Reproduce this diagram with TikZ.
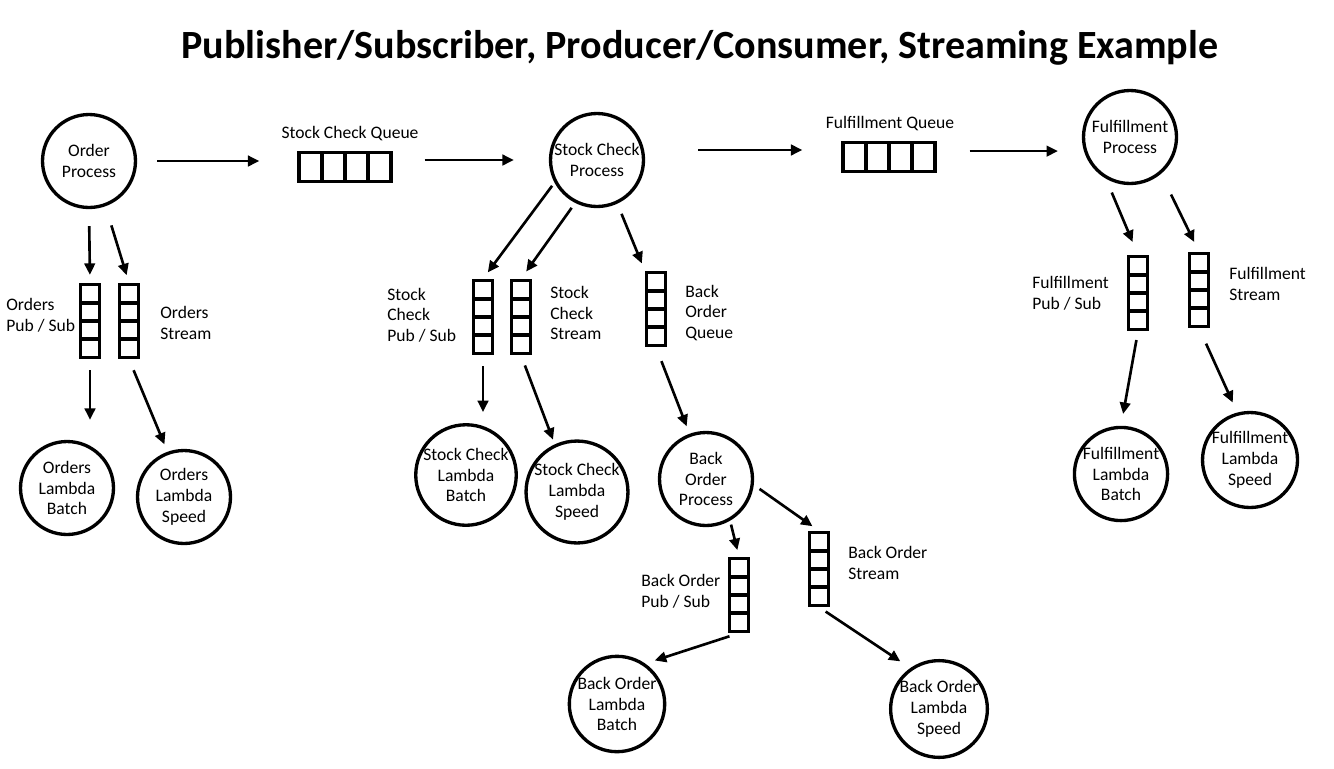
\documentclass[tikz,border=0pt]{standalone}
\usepackage{fontspec}
\setmainfont{Carlito}
\usepackage{tikz}
\usetikzlibrary{arrows.meta}

\tikzset{
  txt/.style={font=\fontsize{10}{11.8}\selectfont},
  proc/.style={draw, circle, line width=1.9pt, minimum size=1.86cm, inner sep=0pt, align=center, txt},
  vq/.style={draw, line width=1.9pt, minimum width=0.38cm, minimum height=1.46cm, inner sep=0pt,
    path picture={\foreach \k in {1,2,3}
      \draw[line width=2.2pt] ([yshift=-\k*0.365cm]path picture bounding box.north west) -- ([yshift=-\k*0.365cm]path picture bounding box.north east);}},
  hq/.style={draw, line width=1.9pt, minimum width=1.84cm, minimum height=0.58cm, inner sep=0pt,
    path picture={\foreach \k in {1,2,3}
      \draw[line width=2.2pt] ([xshift=\k*0.46cm]path picture bounding box.north west) -- ([xshift=\k*0.46cm]path picture bounding box.south west);}},
  lbl/.style={anchor=west, align=left, inner sep=0pt, txt},
  arr/.style={-{Triangle[length=6.5pt,width=6pt]}, line width=1.5pt},
  gap/.style 2 args={shorten <=#1, shorten >=#2}
}

\begin{document}
\begin{tikzpicture}[x=0.02cm, y=-0.02cm]
\useasboundingbox (0,0) rectangle (1334,768);

\node at (700,48) {\fontsize{22.8}{26}\selectfont\bfseries Publisher/Subscriber, Producer/Consumer, Streaming Example};

% orders
\node (orderproc) at (89,161) [proc] {Order\\Process};
\node (opubsub) at (90,321) [vq] {};
\node (ostream) at (129,321) [vq] {};
\node at (6,315) [lbl] {Orders\\Pub / Sub};
\node at (160,323) [lbl] {Orders\\Stream};
\node (olb) at (67,488) [proc] {Orders\\Lambda\\Batch};
\node (ols) at (184,497) [proc] {Orders\\Lambda\\Speed};

% stock check
\node (scqueue) at (345,167) [hq] {};
\node at (350,134) [txt] {Stock Check Queue};
\node (scproc) at (597,160) [proc] {Stock Check\\Process};
\node (scpubsub) at (483,317) [vq] {};
\node (scstream) at (521,317) [vq] {};
\node at (387,315) [lbl] {Stock\\Check\\Pub / Sub};
\node at (550,313) [lbl] {Stock\\Check\\Stream};
\node (sclb) at (466,475) [proc] {Stock Check\\Lambda\\Batch};
\node (scls) at (577,492) [proc] {Stock Check\\Lambda\\Speed};

% back order
\node (boqueue) at (656,309) [vq] {};
\node at (685,313) [lbl] {Back\\Order\\Queue};
\node (boproc) at (706,479) [proc] {Back\\Order\\Process};
\node (bopubsub) at (739,595) [vq] {};
\node (bostream) at (819,569) [vq] {};
\node at (641,591) [lbl] {Back Order\\Pub / Sub};
\node at (848,563) [lbl] {Back Order\\Stream};
\node (bolb) at (617,704) [proc] {Back Order\\Lambda\\Batch};
\node (bols) at (939,709) [proc] {Back Order\\Lambda\\Speed};

% fulfillment
\node (fqueue) at (889,157) [hq] {};
\node at (890,124) [txt] {Fulfillment Queue};
\node (fproc) at (1130,137) [proc] {Fulfillment\\Process};
\node (fpubsub) at (1138,293) [vq] {};
\node (fstream) at (1199,290) [vq] {};
\node at (1032,293) [lbl] {Fulfillment\\Pub / Sub};
\node at (1229,284) [lbl] {Fulfillment\\Stream};
\node (flb) at (1121,474) [proc] {Fulfillment\\Lambda\\Batch};
\node (fls) at (1250,460) [proc] {Fulfillment\\Lambda\\Speed};

% main flow
\draw [arr, gap={0.4cm}{0.76cm}] (orderproc.east) -- (orderproc.east -| scqueue.west);
\draw [arr, gap={0.64cm}{0.7cm}] (scqueue.east |- scproc.west) -- (scproc.west);
\draw [arr, gap={1.08cm}{0.78cm}] (scproc.12) -- (scproc.12 -| fqueue.west);
\draw [arr, gap={0.66cm}{0.52cm}] (fqueue.east |- fproc.197) -- (fproc.197);

% orders branches
\draw [arr, gap={0.34cm}{0.16cm}] (orderproc.south) -- (opubsub.north);
\draw [arr, gap={0.4cm}{0.16cm}] (orderproc.290) -- (ostream.north);
\draw [arr, gap={0.22cm}{0.4cm}] (opubsub.south) -- (opubsub.south |- olb.north);
\draw [arr, gap={0.24cm}{0.16cm}] (ostream.south) -- (ols.110);

% stock check branches
\draw [arr, gap={0.08cm}{0.16cm}] (scproc.208) -- (scpubsub.north);
\draw [arr, gap={0.12cm}{0.18cm}] (scproc.243) -- (scstream.north);
\draw [arr, gap={0.22cm}{0.16cm}] (scproc.295) -- (boqueue.north west);
\draw [arr, gap={0.22cm}{0.22cm}] (scpubsub.south) -- (scpubsub.south |- sclb.north);
\draw [arr, gap={0.22cm}{0.1cm}] (scstream.south) -- (scls.115);

% back order branches
\draw [arr, gap={0.3cm}{0.16cm}] (boqueue.south) -- (boproc.110);
\draw [arr, gap={0.08cm}{0.14cm}] (boproc.300) -- (bopubsub.north);
\draw [arr, gap={0.14cm}{0.16cm}] (boproc.353) -- (bostream.north);
\draw [arr, gap={0.2cm}{0.2cm}] (bopubsub.south) -- (bolb.55);
\draw [arr, gap={0.16cm}{0.24cm}] (bostream.south) -- (bols.125);

% fulfillment branches
\draw [arr, gap={0.3cm}{0.28cm}] (fproc.240) -- (fpubsub.north);
\draw [arr, gap={0.46cm}{0.22cm}] (fproc.310) -- (fstream.north);
\draw [arr, gap={0.18cm}{0.24cm}] (fpubsub.south) -- (flb.north);
\draw [arr, gap={0.34cm}{0.22cm}] (fstream.south) -- (fls.105);

\end{tikzpicture}
\end{document}
